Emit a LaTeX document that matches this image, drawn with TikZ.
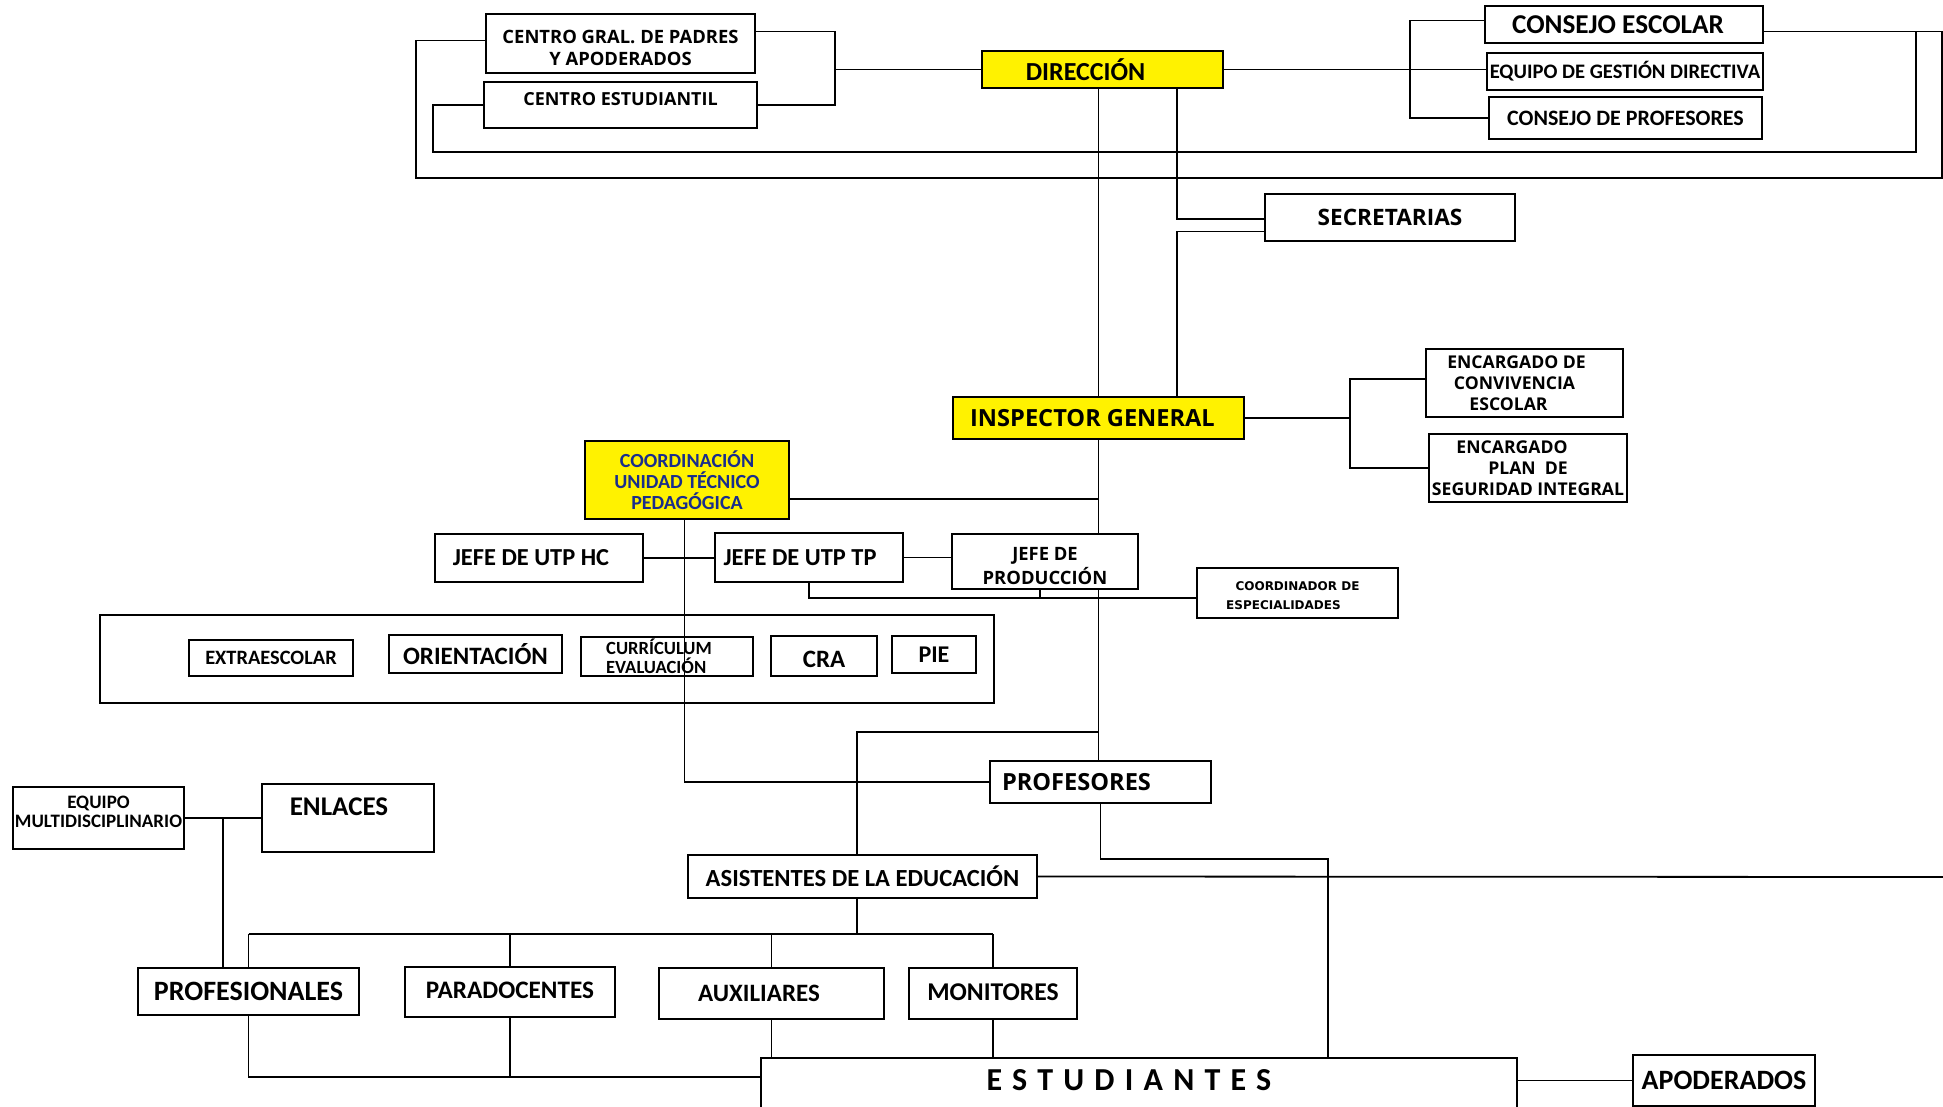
\documentclass[tikz,border=0pt]{standalone}
\usepackage{fontspec}
\setmainfont{Carlito}
\newfontfamily\tah{Open Sans}
\newfontfamily\dvs{DejaVu Sans}
\usetikzlibrary{positioning}
\definecolor{amarillo}{RGB}{255,242,0}
\definecolor{azulutp}{RGB}{25,45,140}
\newcommand{\fcal}[2]{\bfseries\fontsize{#1}{#2}\selectfont}
\newcommand{\ftah}[2]{\tah\bfseries\fontsize{#1}{#2}\selectfont}
\newcommand{\mover}[2]{\raisebox{#1}[\height][\depth]{#2}}

\begin{document}
\begin{tikzpicture}[x=0.5pt, y=-0.5pt,
box/.style ={draw, line width=0.9pt, inner sep=0pt, align=center},
ybox/.style ={box, fill=amarillo},
conn/.style ={line width=0.9pt}]
\useasboundingbox[fill=white] (0,0) rectangle (1943,1107);
% cajas superiores
\node[box, minimum width=134.5pt, minimum height=29.5pt, font={\ftah{9.2}{11}}] (cgp) at (620.5,43.5) {\mover{-2pt}{CENTRO GRAL. DE PADRES}\\\mover{-2pt}{Y APODERADOS}};
\node[box, minimum width=136.5pt, minimum height=23pt, font={\ftah{9}{11}}] (cest) at (620.5,105) {\mover{3pt}{CENTRO ESTUDIANTIL}};
\node[ybox, minimum width=120.5pt, minimum height=18.5pt, font={\fcal{13}{15}}] (dir) at (1102.5,69.5) {\hspace*{-17pt}DIRECCIÓN};
\node[box, minimum width=139pt, minimum height=18.5pt, font={\fcal{13.6}{15}}] (ces) at (1624,24.5) {\hspace*{-6pt}CONSEJO ESCOLAR};
\node[box, minimum width=138pt, minimum height=18.5pt, font={\fcal{10.3}{12}}] (egd) at (1625,71.5) {EQUIPO DE GESTIÓN DIRECTIVA};
\node[box, minimum width=136.5pt, minimum height=21pt, font={\fcal{11}{12}}] (cpr) at (1625.5,118) {CONSEJO DE PROFESORES};
\node[box, minimum width=125pt, minimum height=23.5pt, font={\ftah{11.3}{12}}] (sec) at (1390,217.5) {SECRETARIAS};
\node[ybox, minimum width=145.5pt, minimum height=21pt, font={\ftah{11.8}{13}}] (ig) at (1098.5,418) {\hspace*{-6pt}INSPECTOR GENERAL};
\node[box, minimum width=98.5pt, minimum height=34pt, font={\ftah{8.8}{10.5}}] (ecv) at (1524.5,383) {\hspace*{-8pt}ENCARGADO DE\\\hspace*{-10pt}CONVIVENCIA\\\hspace*{-16pt}ESCOLAR};
\node[box, minimum width=99pt, minimum height=34pt, font={\ftah{8.8}{10.5}}] (eps) at (1528,468) {\hspace*{-16pt}ENCARGADO\\PLAN \ DE\\SEGURIDAD INTEGRAL};
% utp
\node[ybox, minimum width=102pt, minimum height=39pt, font={\fcal{10}{10.5}}, text=azulutp] (cutp) at (687,480) {COORDINACIÓN\\UNIDAD TÉCNICO\\PEDAGÓGICA};
\node[box, minimum width=104pt, minimum height=24pt, font={\fcal{12.2}{13}}] (hc) at (539,558) {\hspace*{-8pt}JEFE DE UTP HC};
\node[box, minimum width=94pt, minimum height=24.5pt, font={\fcal{12.2}{13}}] (tp) at (809,557.5) {\hspace*{-9pt}JEFE DE UTP TP};
\node[box, minimum width=93pt, minimum height=27.5pt, font={\ftah{9.2}{12}}] (jp) at (1045,561.5) {\mover{-2.5pt}{JEFE DE}\\\mover{-2.5pt}{PRODUCCIÓN}};
\node[box, minimum width=100.5pt, minimum height=25pt, font={\dvs\bfseries\fontsize{6}{9.2}\selectfont}] (cesp) at (1297.5,593) {\mover{-1.25pt}{COORDINADOR DE}\\\hspace*{-14pt}\mover{-1.25pt}{ESPECIALIDADES}};
\node[box, minimum width=447pt, minimum height=44pt] (area) at (547,659) {};
\node[box, minimum width=82pt, minimum height=18pt, font={\fcal{10.2}{11}}] (extra) at (271,658) {EXTRAESCOLAR};
\node[box, minimum width=86.5pt, minimum height=19pt, font={\fcal{12.5}{13}}] (ori) at (475.5,654) {ORIENTACIÓN};
\node[box, minimum width=86pt, minimum height=19.5pt, font={\fcal{9.3}{9.3}}, align=left] (curr) at (667,656.5) {\hspace*{-8pt}CURRÍCULUM\\\hspace*{-8pt}EVALUACIÓN};
\node[box, minimum width=53pt, minimum height=20pt, font={\fcal{12.5}{13}}] (cra) at (824,656) {\mover{-1.9pt}{CRA}};
\node[box, minimum width=42pt, minimum height=18.5pt, font={\fcal{12}{13}}] (pie) at (934,654.5) {PIE};
% profesores y asistentes
\node[box, minimum width=110.5pt, minimum height=21pt, font={\ftah{11.8}{13}}] (prof) at (1100.5,782) {\hspace*{-24pt}PROFESORES};
\node[box, minimum width=85.5pt, minimum height=31pt, font={\fcal{9.5}{9.5}}] (emd) at (98.5,818) {\mover{3pt}{EQUIPO}\\\mover{3pt}{MULTIDISCIPLINARIO}};
\node[box, minimum width=86pt, minimum height=34pt, font={\fcal{13.5}{15}}] (enl) at (348,818) {\hspace*{-9pt}\mover{5.5pt}{ENLACES}};
\node[box, minimum width=174.5pt, minimum height=21.5pt, font={\fcal{12.3}{13}}] (asis) at (862.5,876.5) {ASISTENTES DE LA EDUCACIÓN};
\node[box, minimum width=110.5pt, minimum height=23.5pt, font={\fcal{14}{15}}] (pfl) at (248.5,991.5) {PROFESIONALES};
\node[box, minimum width=105pt, minimum height=25pt, font={\fcal{12.6}{13}}] (para) at (510,992) {\mover{0.75pt}{PARADOCENTES}};
\node[box, minimum width=112.5pt, minimum height=25.5pt, font={\fcal{12.5}{14}}] (aux) at (771.5,993.5) {\hspace*{-12.5pt}AUXILIARES};
\node[box, minimum width=84pt, minimum height=25.5pt, font={\fcal{12.8}{14}}] (mon) at (993,993.5) {\mover{0.75pt}{MONITORES}};
\node[box, minimum width=378pt, minimum height=32pt, font={\fcal{16}{17}\addfontfeature{LetterSpace=32}}] (est) at (1139,1090) {\hspace*{-10pt}\mover{4.7pt}{ESTUDIANTES}};
\node[box, minimum width=91pt, minimum height=25.5pt, font={\fcal{14}{15}}] (apo) at (1724,1080.5) {APODERADOS};

% direccion
\coordinate (lb) at (835,69.5);
\coordinate (rb) at (1410,69);
\coordinate (ca) at ([yshift=-3.5pt]ces.east);
\draw[conn] ([yshift=6pt]cgp.east) -| (lb) |- (cest.east);
\draw[conn] (lb) -- (dir.west);
\draw[conn] ([yshift=1.5pt]cgp.west) -| (416,178) -- (1942,178) |- (ca);
\draw[conn] (cest.west) -| (433,152) -- (1916,152) |- (ca);
\draw[conn] (dir.east) -- (dir.east -| egd.west);
\draw[conn] ([yshift=2pt]ces.west) -| (cpr.west -| rb) -- (cpr.west);
\draw[conn] ([xshift=37.25pt]dir.south) |- ([yshift=-0.9pt]sec.west);
\draw[conn] ([yshift=-7pt]sec.west) -| ([xshift=39.25pt]ig.north);
\draw[conn] (ig.north |- dir.south) -- (ig.north);
% inspector general
\coordinate (ib) at (1350,418);
\draw[conn] (ig.east) -- (ib);
\draw[conn] ([yshift=2pt]ecv.west) -| (eps.west -| ib) -- (eps.west);
\draw[conn] ([yshift=-9.5pt]cutp.east) -| (ig.south);
\draw[conn] (ig.south) -- (ig.south |- jp.north);
\draw[conn] (ig.south |- jp.south) -- (ig.south |- prof.north);
\draw[conn] (hc.east) -- (hc.east -| tp.west);
\draw[conn] (tp.east) -- (tp.east -| jp.west);
\draw[conn] ([xshift=-1.25pt]cutp.south) |- (prof.west);
\coordinate (ce) at ([yshift=-2.5pt]cesp.west);
\coordinate (js) at ([xshift=-2.5pt]jp.south);
\draw[conn] (tp.south) |- (ce);
\draw[conn] (js) -- (js |- ce);
% profesores y asistentes
\coordinate (pe) at (1328,859);
\coordinate (pj) at (1099,732);
\coordinate (aj) at ([xshift=-2.75pt]asis.north);
\coordinate (re) at (1943,877);
\coordinate (bus) at (858,934);
\draw[conn] (prof.south) |- (pe) -- (pe |- est.north);
\draw[conn] (aj) |- (pj);
\draw[conn] (asis.east) -- (re);
\draw[conn] (aj |- asis.south) -- (aj |- bus);
\draw[conn] (pfl.north |- bus) -- (mon.north |- bus);
\foreach \n in {pfl,para,aux,mon}
  \draw[conn] (\n.north) -- (\n.north |- bus);
\coordinate (eb) at ([yshift=6.5pt]est.west);
\draw[conn] (pfl.south) |- (eb);
\draw[conn] (para.south) -- (para.south |- eb);
\foreach \n in {aux,mon}
  \draw[conn] (\n.south) -- (\n.south |- est.north);
\draw[conn] (apo.west -| est.east) -- (apo.west);
\coordinate (ej) at (223,818);
\draw[conn] (emd.east) -- (enl.west);
\draw[conn] (ej) -- (ej |- pfl.north);
\end{tikzpicture}
\end{document}
